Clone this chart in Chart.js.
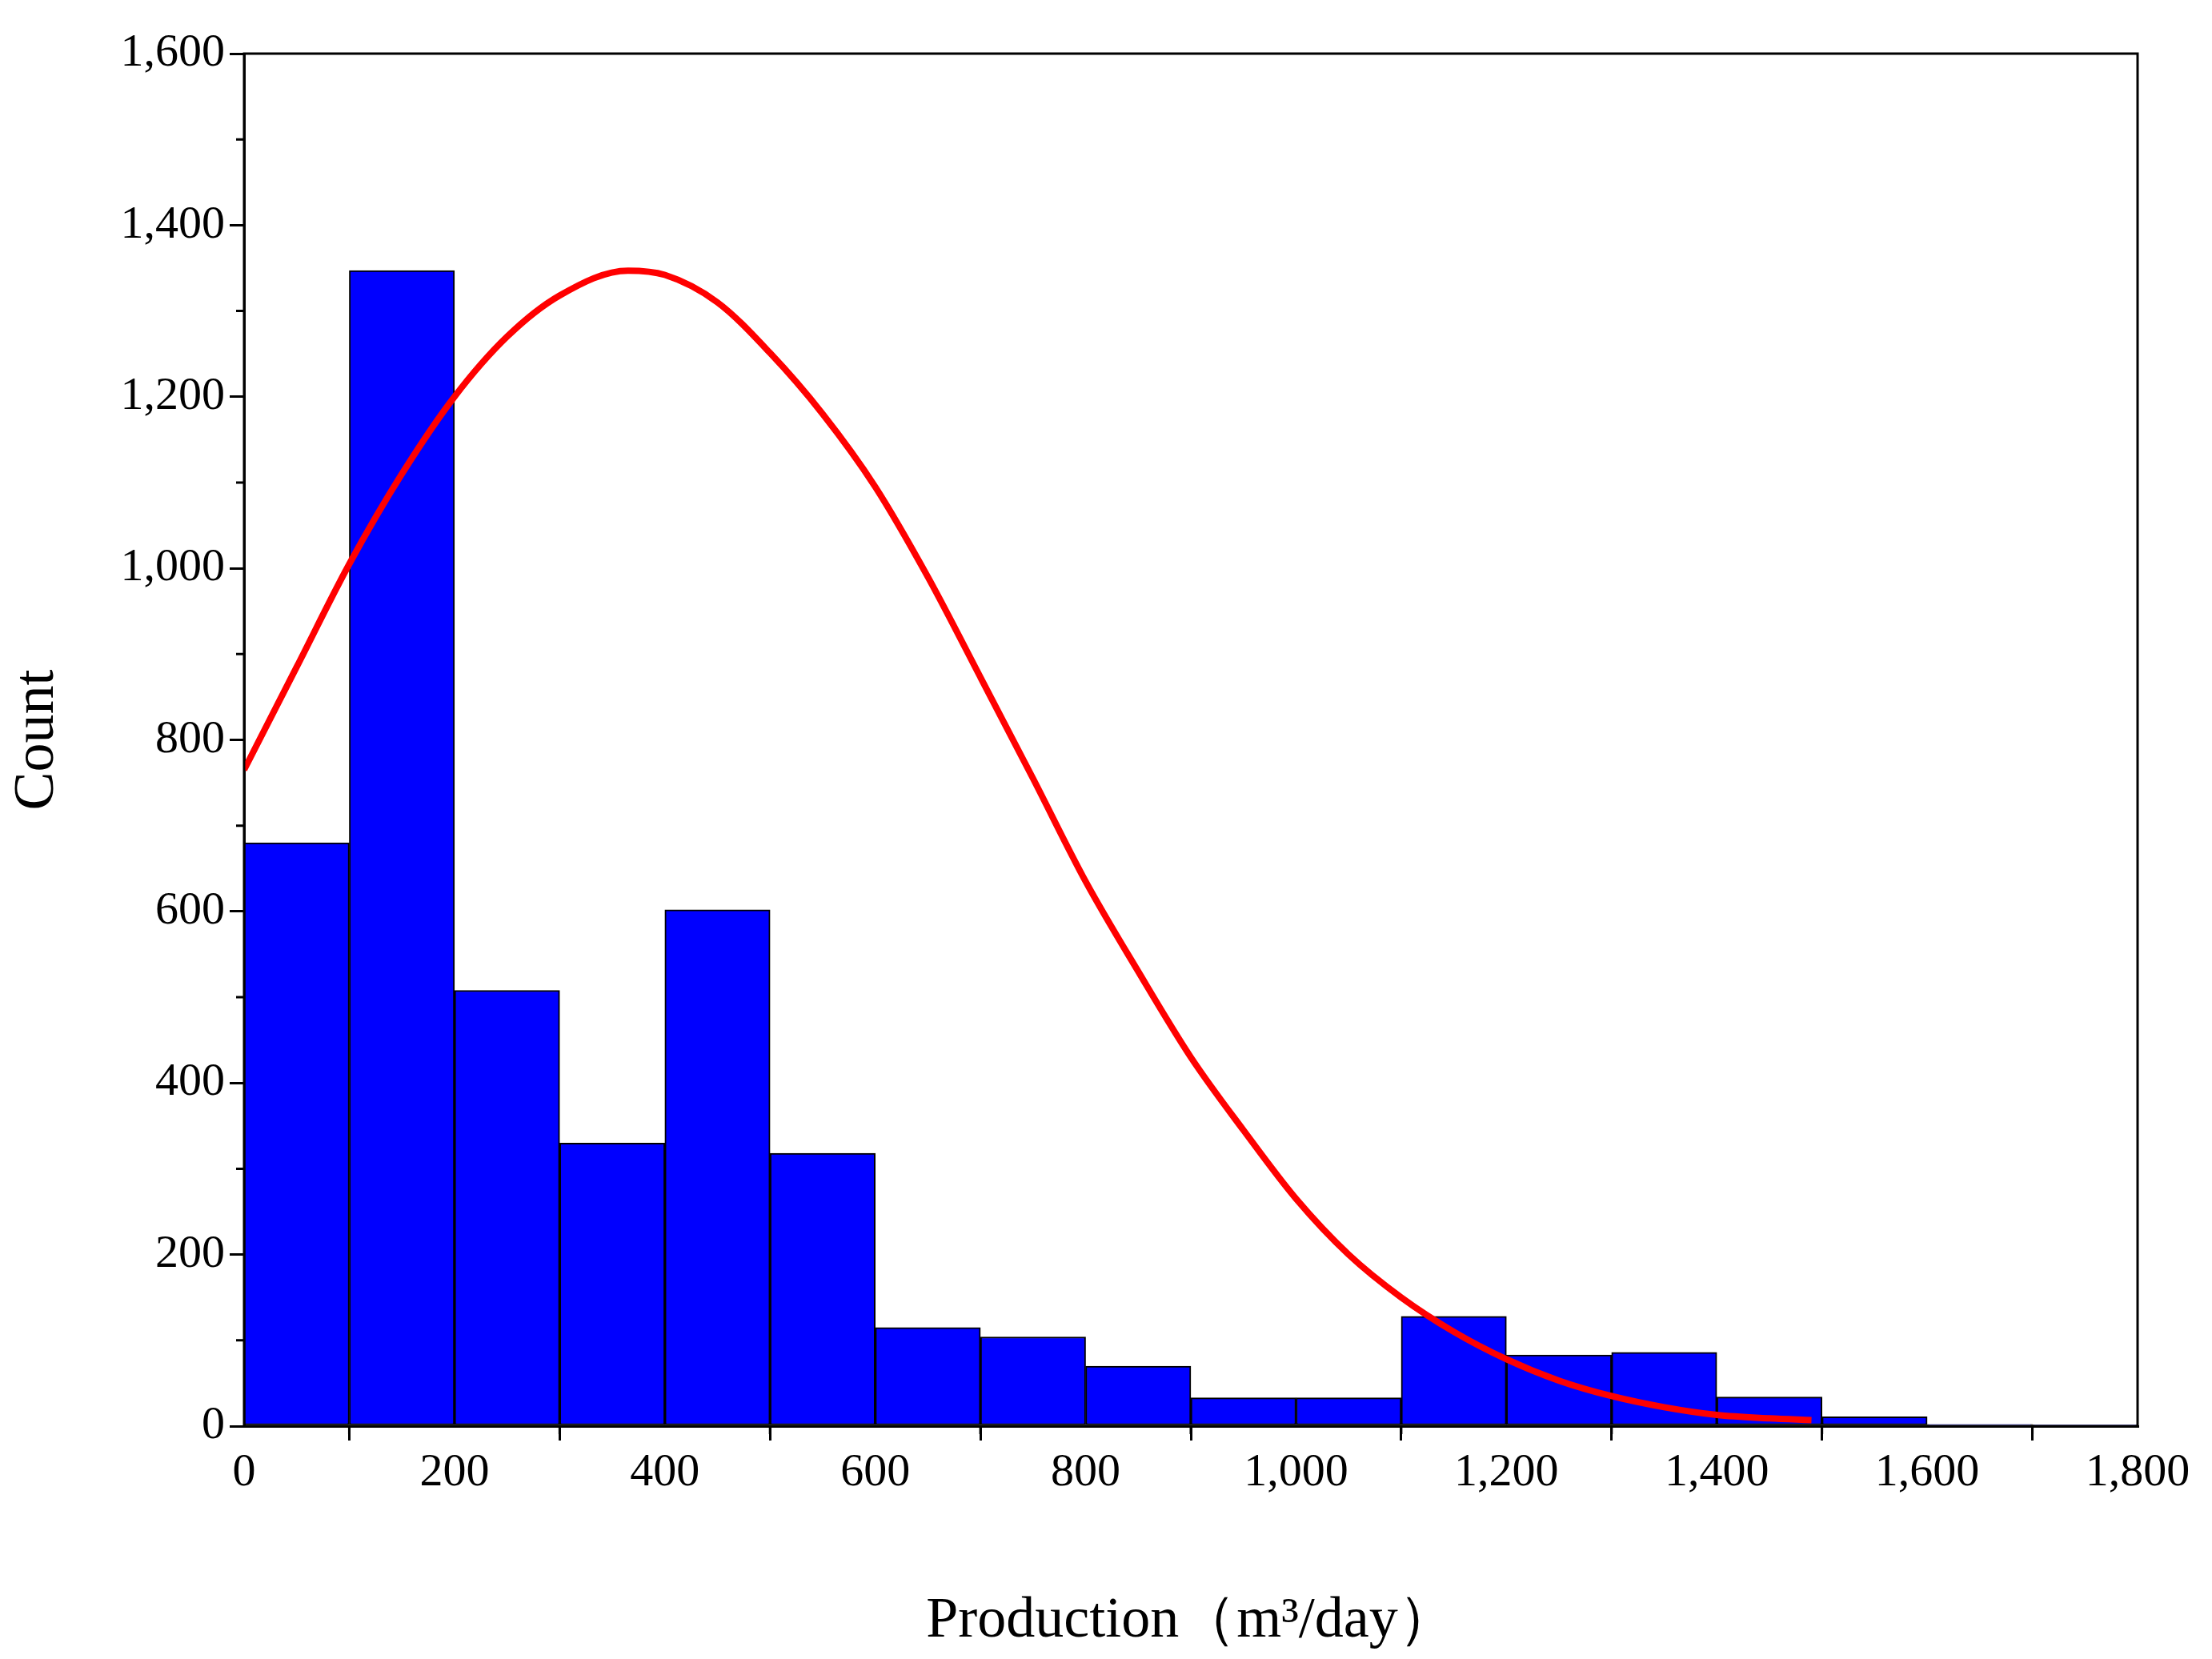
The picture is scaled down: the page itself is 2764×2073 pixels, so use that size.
<!DOCTYPE html>
<html>
<head>
<meta charset="utf-8">
<script src="https://cdn.jsdelivr.net/npm/chart.js@4"></script>
<style>
  html, body { margin: 0; padding: 0; background: #fff; }
  #wrap { width: 2764px; height: 2073px; }
</style>
</head>
<body>
<div id="wrap"><canvas id="c" width="2764" height="2073"></canvas></div>
<script>
// bin centres (m3/day) and counts
const binCenters = [50, 150, 250, 350, 450, 550, 650, 750, 850, 950, 1050, 1150, 1250, 1350, 1450, 1550, 1650, 1750];
const binCounts = [680, 1347, 508, 330, 602, 318, 115, 104, 70, 33, 33, 128, 83, 86, 34, 11, 2, 1];

// fitted curve
const curveX = [0, 50, 100, 150, 200, 250, 300, 365, 400, 450, 500, 550, 600, 650, 700, 750, 800, 850, 900, 950, 1000, 1050, 1100, 1150, 1200, 1250, 1300, 1350, 1400, 1450, 1490];
const curveY = [765, 885, 1005, 1110, 1200, 1270, 1318, 1347, 1342, 1310, 1251, 1180, 1095, 990, 873, 755, 635, 530, 430, 345, 265, 200, 150, 110, 78, 53, 35, 22, 13, 9, 7];

const serif = '"Liberation Serif", "Times New Roman", serif';

// frame + minor ticks
const framePlugin = {
  id: 'frame',
  afterDraw(chart) {
    const { ctx, chartArea: a, scales } = chart;
    ctx.save();
    ctx.strokeStyle = '#000';
    ctx.lineWidth = 3;
    ctx.strokeRect(a.left, a.top, a.right - a.left, a.bottom - a.top);
    ctx.beginPath();
    for (let v = 100; v < 1800; v += 200) {
      const x = scales.x.getPixelForValue(v);
      ctx.moveTo(x, a.bottom); ctx.lineTo(x, a.bottom + 10);
    }
    for (let v = 100; v < 1600; v += 200) {
      const y = scales.y.getPixelForValue(v);
      ctx.moveTo(a.left, y); ctx.lineTo(a.left - 10, y);
    }
    ctx.stroke();
    ctx.restore();
  }
};

new Chart(document.getElementById('c').getContext('2d'), {
  type: 'bar',
  data: {
    datasets: [
      {
        type: 'line',
        data: curveX.map((x, i) => ({ x, y: curveY[i] })),
        borderColor: '#ff0000',
        borderWidth: 8,
        pointRadius: 0,
        cubicInterpolationMode: 'monotone',
        fill: false,
        order: 0
      },
      {
        type: 'bar',
        data: binCenters.map((x, i) => ({ x, y: binCounts[i] })),
        backgroundColor: '#0000ff',
        borderColor: '#000',
        borderWidth: 2,
        borderSkipped: false,
        barPercentage: 1,
        categoryPercentage: 1,
        grouped: false,
        order: 1
      }
    ]
  },
  options: {
    responsive: false,
    animation: false,
    layout: { padding: { top: 67, right: 93, left: 0, bottom: 0 } },
    plugins: { legend: { display: false }, tooltip: { enabled: false } },
    scales: {
      x: {
        type: 'linear', min: 0, max: 1800, offset: false,
        grid: { drawOnChartArea: false, tickLength: 18, color: '#000', lineWidth: 3 },
        border: { color: '#000', width: 3 },
        ticks: { stepSize: 200, color: '#000', font: { family: serif, size: 58 }, padding: 6, maxRotation: 0 },
        title: { display: true, text: 'Production（m³/day）', color: '#000', font: { family: serif, size: 72 }, padding: { top: 40 } },
        afterFit(s) { s.height = 291; }
      },
      y: {
        min: 0, max: 1600,
        grid: { drawOnChartArea: false, tickLength: 18, color: '#000', lineWidth: 3 },
        border: { color: '#000', width: 3 },
        ticks: { stepSize: 200, color: '#000', font: { family: serif, size: 58 }, padding: 6 },
        title: { display: true, text: 'Count', color: '#000', font: { family: serif, size: 72 }, padding: { bottom: 10 } },
        afterFit(s) { s.width = 305; }
      }
    }
  },
  plugins: [framePlugin]
});
</script>
</body>
</html>
